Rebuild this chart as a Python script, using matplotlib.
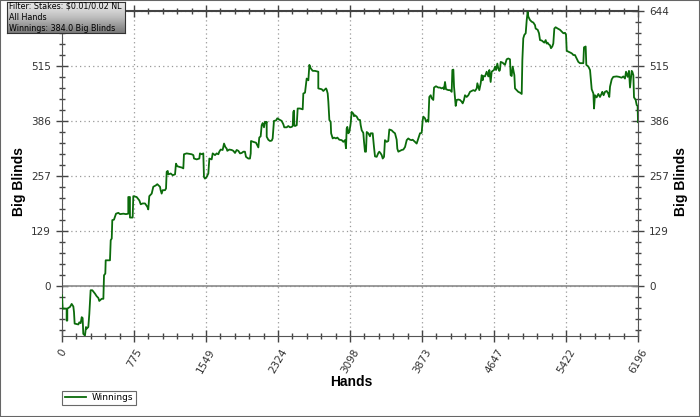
import numpy as np
import matplotlib
matplotlib.use("Agg")
import matplotlib.pyplot as plt
from matplotlib.patches import Rectangle
from matplotlib.ticker import FixedLocator, MultipleLocator

# cumulative winnings (big blinds)
hands = [0, 7, 50, 50, 57, 57, 86, 104, 122, 129, 136, 176, 186, 201, 212, 222, 229, 247,
         258, 265, 283, 294, 308, 326, 355, 373, 391, 401, 427, 445, 452, 466, 470, 516,
         524, 535, 541, 559, 581, 606, 624, 660, 688, 713, 713, 731, 731, 760, 767, 803,
         832, 847, 868, 893, 918, 928, 939, 965, 982, 1008, 1025, 1054,
         1061, 1072, 1083, 1108, 1119, 1126, 1137, 1144, 1169, 1191, 1216, 1226, 1240,
         1269, 1288, 1305, 1312, 1341, 1395, 1413, 1420, 1449, 1477, 1484, 1503, 1520,
         1527, 1538, 1556, 1574, 1585, 1610, 1621, 1646, 1664, 1682, 1692, 1707, 1728,
         1743, 1757, 1772, 1778, 1800, 1825, 1843, 1861, 1879, 1897, 1915, 1933, 1951,
         1968, 1979, 2004, 2022,
         2030, 2033, 2058, 2087, 2101, 2112, 2122, 2137, 2148, 2159, 2173, 2184, 2194,
         2202, 2202, 2219, 2237, 2256, 2266, 2273, 2280, 2302, 2316, 2338, 2363, 2381,
         2391, 2417, 2434, 2453, 2471, 2482, 2488, 2496, 2499, 2506, 2525, 2535, 2560,
         2589, 2596, 2614, 2632, 2650, 2661, 2675, 2697, 2721, 2757, 2757, 2794, 2811,
         2840, 2847, 2858, 2865, 2876,
         2890, 2895, 2901, 2912, 2926, 2947, 2962, 2983, 3009, 3026, 3044, 3055, 3062,
         3069, 3080, 3091, 3105, 3116, 3134, 3141, 3152, 3170, 3187, 3206, 3213, 3224,
         3241, 3249, 3259, 3270, 3278, 3295, 3313, 3321, 3342, 3349, 3356, 3367, 3385,
         3403, 3413, 3428, 3439, 3450, 3464, 3474, 3493, 3510, 3521, 3546, 3564, 3582,
         3600, 3607, 3618, 3636, 3654, 3672, 3690, 3708, 3725, 3743, 3761, 3772, 3797,
         3815, 3833, 3851, 3869,
         3880, 3887, 3905, 3916, 3930, 3941, 3951, 3966, 3977, 3994, 4002, 4023, 4048,
         4066, 4084, 4102, 4109, 4120, 4131, 4156, 4174, 4192, 4199, 4210, 4217, 4228,
         4235, 4246, 4263, 4281, 4299, 4310, 4324, 4335, 4353, 4371, 4389, 4407, 4425,
         4443, 4461, 4468, 4479, 4489, 4504, 4515, 4525, 4532, 4550, 4568, 4586, 4597,
         4611, 4622, 4633, 4647, 4658, 4669, 4683, 4693, 4704, 4711, 4719, 4740, 4765,
         4783, 4801, 4819, 4826, 4837, 4848, 4855, 4866,
         4873, 4891, 4908, 4927, 4945, 4952, 4962, 4973, 4988, 4999, 5009, 5016, 5034,
         5052, 5070, 5088, 5095, 5117, 5131, 5142, 5160, 5177, 5188, 5203, 5213, 5224,
         5231, 5249, 5260, 5274, 5285, 5296, 5310, 5332, 5357, 5375, 5393, 5411, 5422,
         5429, 5446, 5475, 5489, 5500, 5518, 5536, 5554, 5572, 5608, 5615, 5633, 5640,
         5662, 5680, 5690, 5698, 5716, 5723, 5733, 5751, 5769, 5787, 5805, 5812, 5826,
         5841, 5859, 5876, 5887, 5895, 5913, 5930, 5966, 5992, 6020, 6038, 6056, 6067,
         6085, 6099, 6110, 6121, 6128, 6135, 6146, 6153, 6171, 6182, 6192, 6196]
bb = [-21, -52, -52, -80, -80, -52, -48, -41, -47, -60, -87, -89, -84, -86, -72, -74, -111, -115,
      -95, -99, -95, -64, -9, -9, -17, -23, -27, -34, -29, -29, 26, 30, 61, 61,
      108, 112, 155, 156, 170, 172, 169, 170, 169, 170, 209, 209, 161, 161, 211, 209,
      201, 192, 194, 194, 186, 180, 211, 217, 233, 236, 239, 233,
      225, 217, 225, 225, 229, 268, 270, 262, 264, 260, 262, 287, 281,
      279, 278, 276, 309, 311, 309, 307, 299, 297, 299, 311, 309, 311,
      256, 252, 256, 264, 299, 297, 311, 307, 311, 309, 315, 320, 319,
      334, 326, 322, 317, 320, 319, 317, 312, 319, 317, 311, 312, 315,
      315, 303, 299, 299,
      311, 340, 338, 336, 330, 325, 348, 351, 377, 382, 372, 385, 382,
      385, 350, 343, 340, 341, 346, 365, 387, 388, 393, 390, 387, 379,
      372, 372, 375, 372, 373, 375, 408, 411, 377, 375, 377, 416, 416,
      414, 451, 453, 486, 482, 518, 510, 504, 504, 502, 463, 461, 457,
      463, 460, 451, 432, 389,
      385, 358, 354, 346, 348, 346, 348, 343, 342, 338, 342, 323, 369,
      373, 358, 361, 381, 408, 404, 398, 400, 397, 390, 389, 377, 365,
      359, 338, 315, 315, 361, 358, 351, 358, 358, 342, 326, 304, 303,
      312, 315, 311, 307, 299, 303, 342, 338, 340, 367, 365, 361, 358,
      343, 322, 315, 317, 319, 320, 326, 342, 346, 343, 342, 343, 338,
      334, 346, 358, 359,
      389, 397, 393, 385, 389, 385, 443, 447, 440, 436, 465, 468, 465,
      465, 463, 465, 461, 478, 461, 459, 459, 455, 506, 507, 467, 440,
      422, 436, 437, 436, 432, 428, 436, 447, 443, 447, 455, 457, 459,
      457, 463, 475, 467, 459, 475, 494, 482, 492, 491, 502, 491, 506,
      478, 502, 504, 506, 514, 506, 521, 510, 504, 506, 525, 523, 518,
      531, 533, 531, 494, 492, 514, 506, 494,
      463, 459, 455, 453, 450, 529, 580, 588, 592, 623, 642, 631, 623,
      619, 617, 611, 603, 600, 592, 576, 575, 572, 570, 576, 568, 570,
      567, 564, 557, 561, 568, 603, 606, 603, 600, 596, 592, 593, 588,
      551, 549, 546, 544, 541, 541, 533, 525, 522, 522, 559, 561, 518,
      514, 506, 482, 461, 451, 416, 447, 442, 450, 443, 451, 455, 447,
      455, 457, 451, 443, 467, 484, 490, 491, 490, 488, 491, 486, 502,
      490, 504, 465, 490, 504, 502, 494, 442, 436, 424, 422, 384]

y_ticks = [0, 128.8, 257.6, 386.4, 515.2, 644]
y_labels = ["0", "129", "257", "386", "515", "644"]
x_ticks = [0, 774.5, 1549, 2323.5, 3098, 3872.5, 4647, 5421.5, 6196]
x_labels = ["0", "775", "1549", "2324", "3098", "3873", "4647", "5422", "6196"]
info_lines = ["Filter: Stakes: $0.01/0.02 NL", "All Hands", "Winnings: 384.0 Big Blinds"]

fig = plt.figure(figsize=(7, 4.17), dpi=100)
fig.patch.set_facecolor("white")
ax = fig.add_axes([62 / 700, 1 - 336 / 417, 576 / 700, 325 / 417])

ax.plot(hands, bb, color="#0b6b0b", lw=1.3, label="Winnings", zorder=3)
ax.axhline(0, color="#8a8a8a", lw=1.2, zorder=2)

ax.set_xlim(0, 6196)
ax.set_ylim(-116, 644)
ax.xaxis.set_major_locator(FixedLocator(x_ticks))
ax.xaxis.set_minor_locator(MultipleLocator(6196 / 40))
ax.yaxis.set_major_locator(FixedLocator(y_ticks))
ax.yaxis.set_minor_locator(MultipleLocator(644 / 25))
ax.set_xticklabels(x_labels, rotation=60, ha="center", va="top")
ax.set_yticklabels(y_labels)
ax.grid(True, which="major", color="#999999", ls=(0, (1, 2.5)), lw=0.9)

ax.tick_params(which="both", direction="inout", colors="#444444", labelcolor="#333333",
               labelsize=7.5, top=True, right=True, labelright=True)
ax.tick_params(which="major", length=8, width=1)
ax.tick_params(which="minor", length=5, width=1)
ax.tick_params(axis="x", which="both", labeltop=False, pad=4)
ax.tick_params(axis="y", pad=4)
# the left "644" sits under the info box
ax.yaxis.get_major_ticks()[-1].label1.set_visible(False)
for side in ["left", "right", "bottom"]:
    ax.spines[side].set_color("#555555")
ax.spines["top"].set_color("#444444")
ax.spines["top"].set_linewidth(1.5)

lab = dict(fontsize=10, fontweight="bold", family="Liberation Sans",
           ha="center", va="center")
fig.text(351 / 700, 1 - 382 / 417, "Hands", **lab)
fig.text(19 / 700, 1 - 182 / 417, "Big Blinds", rotation=90, **lab)
fig.text(681 / 700, 1 - 182 / 417, "Big Blinds", rotation=90, **lab)

leg = ax.legend(loc="upper left", bbox_to_anchor=(0, -0.168), frameon=True,
                fancybox=False, fontsize=6.5, handlelength=2.4, borderpad=0.3,
                handletextpad=0.6, borderaxespad=0)
leg.get_frame().set_edgecolor("#444444")
leg.get_frame().set_linewidth(0.8)

# info box with grey gradient
box = fig.add_axes([7 / 700, 1 - 33 / 417, 118 / 700, 31 / 417])
grad = np.linspace(0, 1, 50).reshape(-1, 1)
box.imshow(grad, aspect="auto", cmap="Greys", vmin=-0.35, vmax=1.9,
           extent=[0, 1, 0, 1], origin="upper")
box.set_xticks([])
box.set_yticks([])
for s in box.spines.values():
    s.set_color("#333333")
box.text(0.02, 0.5, "\n".join(info_lines), fontsize=5.8, va="center",
         ha="left", linespacing=1.3)

fig.add_artist(Rectangle((0, 0), 1, 1, transform=fig.transFigure, fill=False,
                         edgecolor="#666666", lw=1.5))

fig.savefig("out.png", dpi=100)
